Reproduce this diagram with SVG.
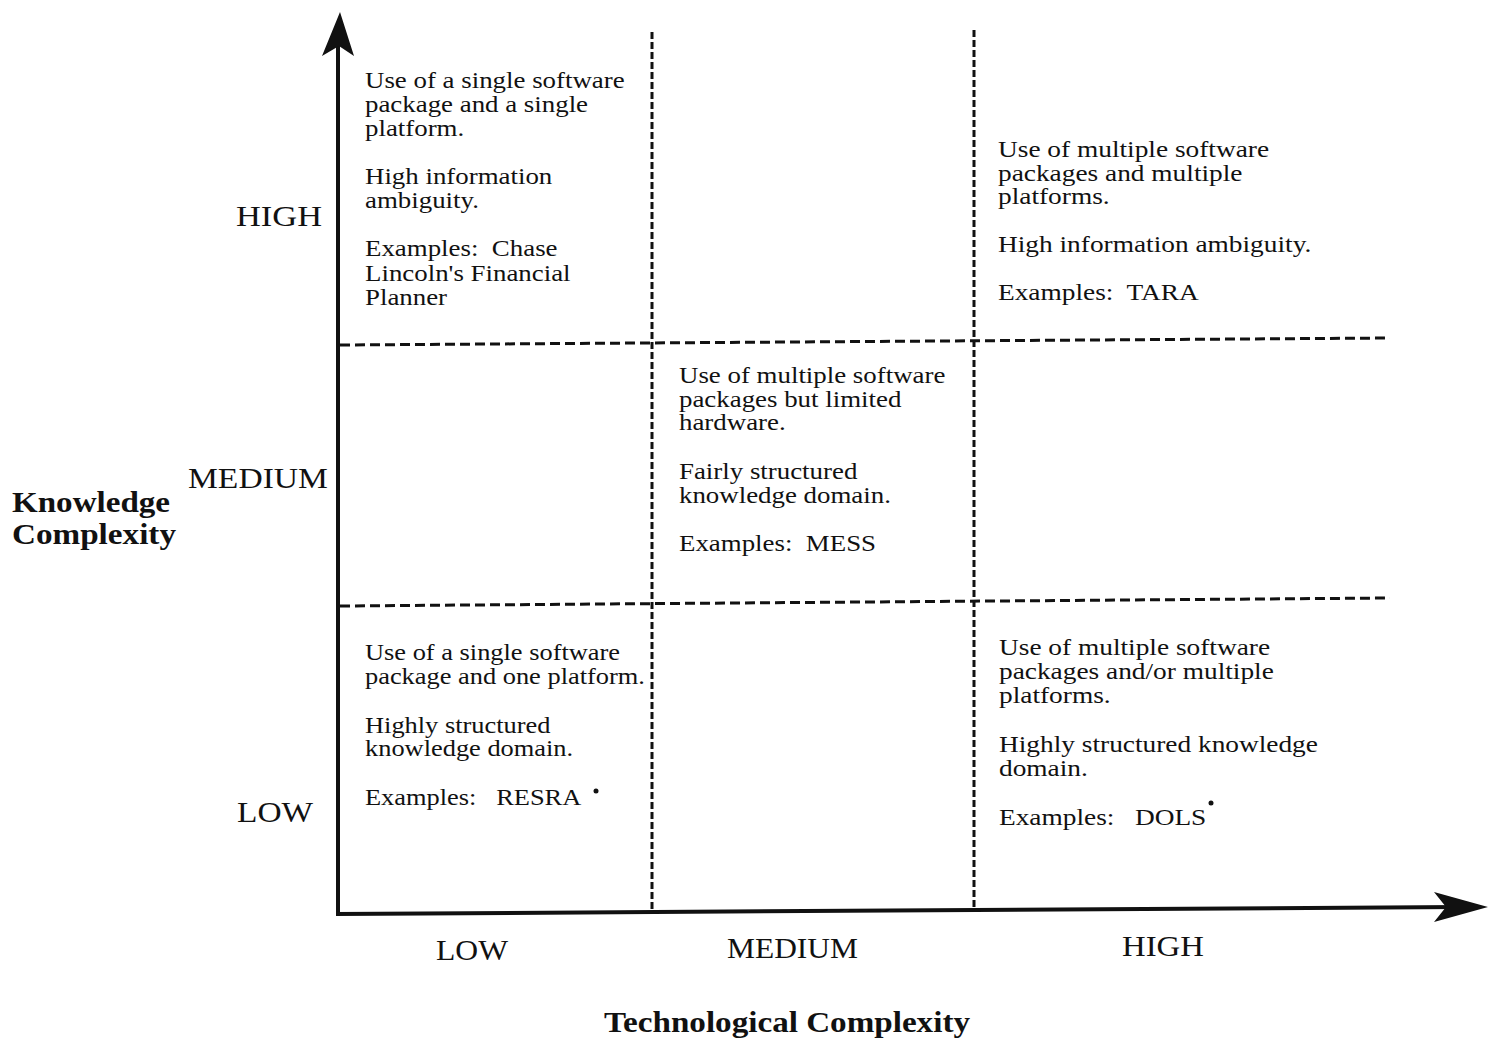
<svg xmlns="http://www.w3.org/2000/svg" width="1488" height="1038" viewBox="0 0 1488 1038">
<style>
.t{font-family:"Liberation Serif","Times New Roman",serif;font-size:24px;fill:#111;}
.ax{font-family:"Liberation Serif","Times New Roman",serif;font-size:29px;fill:#111;}
.ttl{font-family:"Liberation Serif","Times New Roman",serif;font-size:29px;fill:#111;font-weight:bold;}
.axis{stroke:#111;stroke-width:4;fill:none;}
.dv{stroke:#111;stroke-width:3;stroke-dasharray:7 3;fill:none;}
.dh{stroke:#111;stroke-width:3;stroke-dasharray:10 5;fill:none;}
</style>
<rect width="1488" height="1038" fill="#fff"/>
<g id="connectors">
<line class="axis" x1="338" y1="916" x2="338" y2="40"/>
<path d="M340,12 L354,56 L339,46 L322,56 Z" fill="#111"/>
<line class="axis" x1="336" y1="914" x2="1460" y2="907"/>
<path d="M1488,907 L1434,922 L1446,907 L1434,892 Z" fill="#111"/>
<line class="dv" x1="652" y1="32" x2="652" y2="912"/>
<line class="dv" x1="974" y1="30" x2="974" y2="910"/>
<line class="dh" x1="340" y1="345" x2="1390" y2="338"/>
<line class="dh" x1="340" y1="606" x2="1390" y2="598"/>
</g>
<g id="axis-y">
<text class="ax" x="236" y="226" textLength="86" lengthAdjust="spacingAndGlyphs">HIGH</text>
<text class="ax" x="188" y="488" textLength="140" lengthAdjust="spacingAndGlyphs">MEDIUM</text>
<text class="ax" x="237" y="822" textLength="76" lengthAdjust="spacingAndGlyphs">LOW</text>
<text class="ttl" x="12" y="512" textLength="158" lengthAdjust="spacingAndGlyphs">Knowledge</text>
<text class="ttl" x="12" y="544" textLength="164" lengthAdjust="spacingAndGlyphs">Complexity</text>
</g>
<g id="axis-x">
<text class="ax" x="436" y="960" textLength="72" lengthAdjust="spacingAndGlyphs">LOW</text>
<text class="ax" x="727" y="958" textLength="131" lengthAdjust="spacingAndGlyphs">MEDIUM</text>
<text class="ax" x="1122" y="956" textLength="82" lengthAdjust="spacingAndGlyphs">HIGH</text>
<text class="ttl" x="604" y="1032" textLength="366" lengthAdjust="spacingAndGlyphs">Technological Complexity</text>
</g>
<g id="q-high-low">
<g transform="translate(365,0) scale(1.12,1)">
<text class="t" x="0" y="88">Use of a single software</text>
<text class="t" x="0" y="112">package and a single</text>
<text class="t" x="0" y="136">platform.</text>
<text class="t" x="0" y="184">High information</text>
<text class="t" x="0" y="208">ambiguity.</text>
<text class="t" x="0" y="256" xml:space="preserve">Examples:  Chase</text>
<text class="t" x="0" y="281">Lincoln's Financial</text>
<text class="t" x="0" y="305">Planner</text>
</g>
</g>
<g id="q-high-high">
<g transform="translate(998,0) scale(1.14,1)">
<text class="t" x="0" y="157">Use of multiple software</text>
<text class="t" x="0" y="181">packages and multiple</text>
<text class="t" x="0" y="204">platforms.</text>
<text class="t" x="0" y="252">High information ambiguity.</text>
<text class="t" x="0" y="300" xml:space="preserve">Examples:  TARA</text>
</g>
</g>
<g id="q-medium-medium">
<g transform="translate(679,0) scale(1.12,1)">
<text class="t" x="0" y="383">Use of multiple software</text>
<text class="t" x="0" y="407">packages but limited</text>
<text class="t" x="0" y="430">hardware.</text>
<text class="t" x="0" y="479">Fairly structured</text>
<text class="t" x="0" y="503">knowledge domain.</text>
<text class="t" x="0" y="551" xml:space="preserve">Examples:  MESS</text>
</g>
</g>
<g id="q-low-low">
<g transform="translate(365,0) scale(1.1,1)">
<text class="t" x="0" y="660">Use of a single software</text>
<text class="t" x="0" y="684">package and one platform.</text>
<text class="t" x="0" y="733">Highly structured</text>
<text class="t" x="0" y="756">knowledge domain.</text>
<text class="t" x="0" y="805" xml:space="preserve">Examples:   RESRA</text>
</g>
<circle cx="596" cy="791" r="2.5" fill="#111"/>
</g>
<g id="q-low-high">
<g transform="translate(999,0) scale(1.14,1)">
<text class="t" x="0" y="655">Use of multiple software</text>
<text class="t" x="0" y="679">packages and/or multiple</text>
<text class="t" x="0" y="703">platforms.</text>
<text class="t" x="0" y="752">Highly structured knowledge</text>
<text class="t" x="0" y="776">domain.</text>
<text class="t" x="0" y="825" xml:space="preserve">Examples:   DOLS</text>
</g>
<circle cx="1211" cy="803" r="2.5" fill="#111"/>
</g>
</svg>
